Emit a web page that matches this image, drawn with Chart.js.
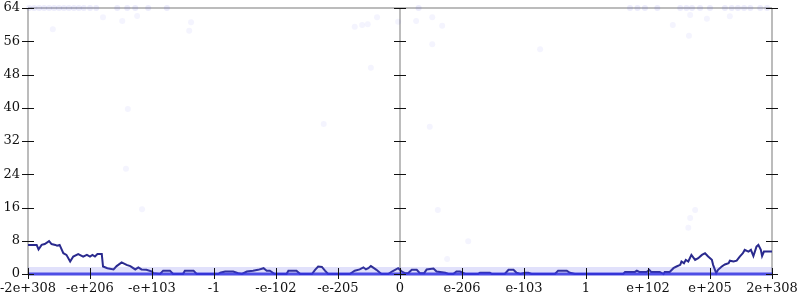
<!DOCTYPE html>
<html>
<head>
<meta charset="utf-8">
<script src="https://cdn.jsdelivr.net/npm/chart.js@4/dist/chart.umd.min.js"></script>
<style>
  html, body { margin: 0; padding: 0; background: #fff; }
  #wrap { width: 800px; height: 300px; }
</style>
</head>
<body>
<div id="wrap"><canvas id="chart"></canvas></div>
<script>
// x runs over the float range in 12 equal steps, -6 .. 6
const xTickLabels = ['-2e+308', '-e+206', '-e+103', '-1', '-e-102', '-e-205', '0',
  'e-206', 'e-103', '1', 'e+102', 'e+205', '2e+308'];

// smoothed count line
const lineX = [-6.00, -5.86, -5.83, -5.78, -5.73, -5.66, -5.62, -5.56, -5.53, -5.49,
  -5.43, -5.38, -5.32, -5.27, -5.19, -5.11, -5.05, -5.00, -4.96, -4.92,
  -4.88, -4.81, -4.79, -4.72, -4.62, -4.57, -4.49, -4.41, -4.35, -4.27,
  -4.22, -4.17, -4.09, -4.00, -3.98, -3.87, -3.82, -3.71, -3.66, -3.50,
  -3.47, -3.33, -3.28, -2.93, -2.90, -2.82, -2.69, -2.61, -2.55, -2.47,
  -2.37, -2.29, -2.20, -2.15, -2.10, -2.02, -1.83, -1.80, -1.67, -1.61,
  -1.42, -1.37, -1.32, -1.26, -1.21, -1.16, -0.81, -0.73, -0.65, -0.59,
  -0.55, -0.51, -0.47, -0.42, -0.38, -0.30, -0.19, -0.13, -0.03, 0.03,
  0.08, 0.13, 0.19, 0.27, 0.32, 0.39, 0.43, 0.54, 0.59, 0.73,
  0.78, 0.86, 0.91, 0.97, 1.05, 1.26, 1.29, 1.45, 1.48, 1.69,
  1.75, 1.83, 1.88, 1.94, 2.02, 2.07, 2.12, 2.50, 2.55, 2.69,
  2.74, 2.82, 3.60, 3.63, 3.79, 3.82, 3.86, 3.98, 4.02, 4.05,
  4.19, 4.25, 4.27, 4.35, 4.41, 4.46, 4.52, 4.54, 4.58, 4.61,
  4.65, 4.70, 4.76, 4.81, 4.87, 4.92, 4.97, 5.03, 5.05, 5.10,
  5.13, 5.19, 5.24, 5.30, 5.32, 5.38, 5.43, 5.48, 5.53, 5.56,
  5.62, 5.66, 5.70, 5.75, 5.78, 5.82, 5.84, 5.87, 6.00];
const lineY = [7.0, 7.0, 5.9, 7.0, 7.2, 7.9, 7.2, 7.0, 6.8, 7.0,
  5.0, 4.6, 3.0, 4.2, 4.8, 4.2, 4.6, 4.2, 4.6, 4.2,
  4.8, 4.8, 1.8, 1.4, 1.1, 1.9, 2.8, 2.2, 1.9, 1.1,
  1.6, 1.1, 1.0, 0.6, 0.2, 0, 0.8, 0.8, 0, 0,
  0.8, 0.8, 0, 0, 0.3, 0.6, 0.6, 0.2, 0, 0.6,
  0.8, 1.0, 1.4, 0.8, 0.8, 0, 0, 0.8, 0.8, 0,
  0, 1.0, 1.8, 1.7, 0.8, 0, 0, 0.8, 1.1, 1.6,
  1.1, 1.4, 1.9, 1.4, 1.0, 0, 0, 0.6, 1.4, 0.6,
  0.2, 0.2, 1.0, 1.0, 0.2, 0.2, 1.1, 1.3, 0.6, 0.3,
  0, 0, 0.6, 0.6, 0, 0, 0.3, 0.3, 0, 0,
  1.0, 1.0, 0.3, 0, 0.3, 0.3, 0, 0, 0.8, 0.8,
  0.3, 0, 0, 0.5, 0.5, 0.8, 0.5, 0.5, 1.0, 0.5,
  0.5, 0, 0.5, 0.5, 1.4, 1.8, 2.2, 3.0, 2.6, 3.4,
  3.0, 4.6, 3.4, 3.8, 4.6, 5.0, 4.2, 3.4, 2.2, 0.2,
  1.0, 1.8, 2.3, 2.6, 3.2, 3.0, 3.2, 4.2, 5.0, 5.8,
  5.4, 5.8, 4.3, 6.6, 7.0, 5.8, 4.3, 5.4, 5.4];

// raw samples: dense rows at 0 / 1 and at the 64 ceiling, a few strays
const bandX = [-6, 6];
const zeroRow = [0, 0];
const oneRow = [0.7, 0.7];
const topX = [-5.98, -5.9, -5.82, -5.74, -5.66, -5.58, -5.5, -5.42, -5.34, -5.26,
  -5.18, -5.1, -5.0, -4.9, -4.56, -4.4, -4.27, -4.06, -3.76, 0.3,
  3.71, 3.83, 3.95, 4.15, 4.52, 4.62, 4.71, 4.84, 5.0, 5.24,
  5.35, 5.45, 5.55, 5.65, 5.81, 5.92];
const strayX = [-5.6, -4.79, -4.48, -4.24, -3.37, -3.4, -0.73, -0.61, -0.52, -0.37,
  -0.03, 0.26, 0.52, 0.68, 0.52, 4.68, 4.95, 5.32, 4.4, 4.66,
  -4.39, -4.42, -1.23, -4.16, 0.61, 1.1, 0.76, 4.76, 4.68, 4.65,
  2.26, -0.47, 0.48];
const strayY = [58.9, 61.8, 60.9, 62.1, 60.6, 58.5, 59.5, 59.9, 60.1, 61.8,
  60.7, 60.9, 61.8, 59.7, 55.3, 62.3, 61.4, 62.0, 59.9, 57.3,
  39.7, 25.3, 36.1, 15.6, 15.4, 7.9, 3.6, 15.4, 13.5, 11.1,
  54.1, 49.6, 35.4];

const yMax = 64;
const yStep = 4;
const yLabelStep = 8;

const pts = (xs, ys) => xs.map((x, i) => ({ x: x, y: ys[i] }));

const axesPlugin = {
  id: 'axes',
  beforeDatasetsDraw(chart) {
    const { ctx, chartArea: a, scales: { x } } = chart;
    ctx.save();
    ctx.strokeStyle = '#bcbcbc';
    ctx.lineWidth = 2;
    ctx.beginPath();
    ctx.moveTo(a.left, a.top);
    ctx.lineTo(a.right, a.top);
    [x.min, 0, x.max].forEach(v => {
      const px = Math.round(x.getPixelForValue(v));
      ctx.moveTo(px, a.top);
      ctx.lineTo(px, a.bottom);
    });
    ctx.stroke();
    ctx.restore();
  },
  afterDatasetsDraw(chart) {
    const { ctx, chartArea: a, scales: { x, y } } = chart;
    ctx.save();
    ctx.lineWidth = 1;
    [x.min, 0, x.max].forEach(v => {
      const px = Math.round(x.getPixelForValue(v));
      y.ticks.forEach(t => {
        const py = Math.round(y.getPixelForValue(t.value)) + 0.5;
        const major = t.value % yLabelStep === 0;
        const len = major ? 6 : 3;
        ctx.strokeStyle = major ? '#111' : '#777';
        ctx.beginPath();
        ctx.moveTo(px - len, py);
        ctx.lineTo(px + len, py);
        ctx.stroke();
      });
    });
    ctx.strokeStyle = '#111';
    x.ticks.forEach(t => {
      const px = Math.round(x.getPixelForValue(t.value)) + 0.5;
      ctx.beginPath();
      ctx.moveTo(px, a.bottom - 6);
      ctx.lineTo(px, a.bottom + 5);
      ctx.stroke();
    });
    ctx.restore();
  }
};

const tickFont = { family: '"DejaVu Serif", serif', size: 13 };

new Chart(document.getElementById('chart'), {
  type: 'line',
  data: {
    datasets: [
      {
        data: pts(bandX, oneRow),
        borderColor: 'rgba(90, 90, 235, 0.18)',
        borderWidth: 8,
        pointRadius: 0,
        clip: 8
      },
      {
        data: pts(bandX, zeroRow),
        borderColor: 'rgba(45, 45, 225, 0.85)',
        borderWidth: 3,
        pointRadius: 0,
        clip: 8
      },
      {
        data: topX.map(x => ({ x: x, y: yMax })),
        showLine: false,
        pointRadius: 3,
        pointBorderWidth: 0,
        pointBackgroundColor: 'rgba(70, 70, 230, 0.10)',
        clip: 4
      },
      {
        data: pts(strayX, strayY),
        showLine: false,
        pointRadius: 3,
        pointBorderWidth: 0,
        pointBackgroundColor: 'rgba(70, 70, 230, 0.06)'
      },
      {
        data: pts(lineX, lineY),
        borderColor: '#2a2a8e',
        borderWidth: 2,
        pointRadius: 0,
        tension: 0,
        clip: 4
      }
    ]
  },
  options: {
    responsive: true,
    maintainAspectRatio: false,
    animation: false,
    devicePixelRatio: 1,
    layout: { padding: { top: 8, right: 28, left: 0, bottom: 0 } },
    plugins: { legend: { display: false }, tooltip: { enabled: false } },
    scales: {
      x: {
        type: 'linear',
        min: -6,
        max: 6,
        grid: { display: false, drawTicks: false },
        border: { display: false },
        ticks: {
          stepSize: 1,
          autoSkip: false,
          maxRotation: 0,
          padding: 7,
          color: '#111',
          font: tickFont,
          callback: v => xTickLabels[Math.round(v) + 6]
        },
        afterFit: s => {
          s.height = 26;
          s.paddingLeft = 0;
          s.paddingRight = 0;
        }
      },
      y: {
        min: 0,
        max: yMax,
        grid: { display: false, drawTicks: false },
        border: { display: false },
        ticks: {
          stepSize: yStep,
          padding: 8,
          color: '#111',
          font: tickFont,
          callback: v => (v % yLabelStep === 0 ? String(v) : '')
        },
        afterFit: s => {
          s.width = 28;
          s.paddingTop = 0;
          s.paddingBottom = 0;
        }
      }
    }
  },
  plugins: [axesPlugin]
});
</script>
</body>
</html>
